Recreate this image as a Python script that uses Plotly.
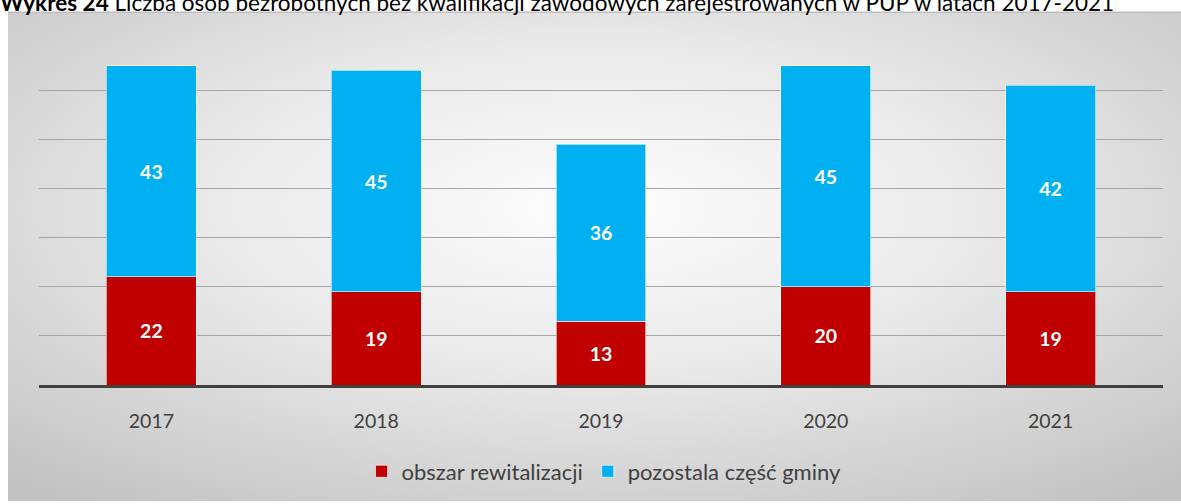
import plotly.graph_objects as go
import urllib.parse

years = ["2017", "2018", "2019", "2020", "2021"]
obszar = [22, 19, 13, 20, 19]
pozostala = [43, 45, 36, 45, 42]
series_names = ["obszar rewitalizacji", "pozostala część gminy"]
title_bold = "Wykres 24"
title_rest = " Liczba osób bezrobotnych bez kwalifikacji zawodowych zarejestrowanych w PUP w latach 2017-2021"

FONT = "Lato"
W, H = 1181, 504
ml, mr, mt, mb = 39, 18, 41, 117
pw, ph = W - ml - mr, H - mt - mb

def px_to_paper_x(px):
    return (px - ml) / pw

def px_to_paper_y(py):
    return (H - mb - py) / ph

svg = (
    '<svg xmlns="http://www.w3.org/2000/svg" width="1173" height="492" preserveAspectRatio="none">'
    '<defs><radialGradient id="g" cx="50%" cy="40%" r="75%" gradientUnits="objectBoundingBox">'
    '<stop offset="0%" stop-color="#fdfdfd"/>'
    '<stop offset="45%" stop-color="#e9e9e9"/>'
    '<stop offset="100%" stop-color="#c2c2c2"/>'
    '</radialGradient></defs>'
    '<rect width="1173" height="492" fill="url(#g)"/></svg>'
)
src = "data:image/svg+xml;charset=utf-8," + urllib.parse.quote(svg)

fig = go.Figure()
fig.add_trace(go.Bar(
    x=years, y=obszar, name=series_names[0],
    marker=dict(color="#C00000", line=dict(color="rgba(255,255,255,0.6)", width=1)),
    text=obszar, textposition="inside", insidetextanchor="middle",
    textfont=dict(family=FONT, size=19.5, color="white", weight="bold"),
    constraintext="none", textangle=0,
))
fig.add_trace(go.Bar(
    x=years, y=pozostala, name=series_names[1],
    marker=dict(color="#00B0F0", line=dict(color="rgba(255,255,255,0.6)", width=1)),
    text=pozostala, textposition="inside", insidetextanchor="middle",
    textfont=dict(family=FONT, size=19.5, color="white", weight="bold"),
    constraintext="none", textangle=0,
))

x0 = px_to_paper_x(8)
x1 = px_to_paper_x(W)
y0 = px_to_paper_y(12)
y1 = px_to_paper_y(H)

fig.update_layout(
    width=W, height=H,
    margin=dict(l=ml, r=mr, t=mt, b=mb, pad=0),
    barmode="stack", bargap=0.6,
    paper_bgcolor="white", plot_bgcolor="rgba(0,0,0,0)",
    font=dict(family=FONT, size=19.5, color="#404040"),
    images=[dict(source=src, xref="paper", yref="paper", x=x0, y=y0,
                 sizex=x1 - x0, sizey=y0 - y1, xanchor="left", yanchor="top",
                 sizing="stretch", layer="below")],
    legend=dict(orientation="h", x=px_to_paper_x(604), xanchor="center", y=px_to_paper_y(474),
                yanchor="middle", font=dict(family=FONT, size=22, color="#404040"),
                bgcolor="rgba(0,0,0,0)", traceorder="normal", itemwidth=30),
    annotations=[dict(text="<b>" + title_bold + "</b>" + title_rest, xref="paper", yref="paper",
                      x=px_to_paper_x(-2), y=px_to_paper_y(2), xanchor="left", yanchor="middle",
                      showarrow=False, font=dict(family=FONT, size=22.5, color="black"))],
    shapes=[dict(type="line", xref="paper", yref="paper", x0=x0, x1=x1, y0=y0, y1=y0,
                 line=dict(color="#a8a8a8", width=1))],
    showlegend=True,
)
fig.update_xaxes(showline=True, linecolor="#404040", linewidth=3, ticks="",
                 ticklabelstandoff=17, tickfont=dict(family=FONT, size=19.5, color="#404040"),
                 showgrid=False)
fig.update_yaxes(range=[0, 70], dtick=10, showticklabels=False, showline=False,
                 zeroline=False, gridcolor="#a6a6a6", gridwidth=1)

fig.write_html("out.html", config={"displayModeBar": False},
               post_script="document.body.style.margin='0';document.body.style.overflow='hidden';")
